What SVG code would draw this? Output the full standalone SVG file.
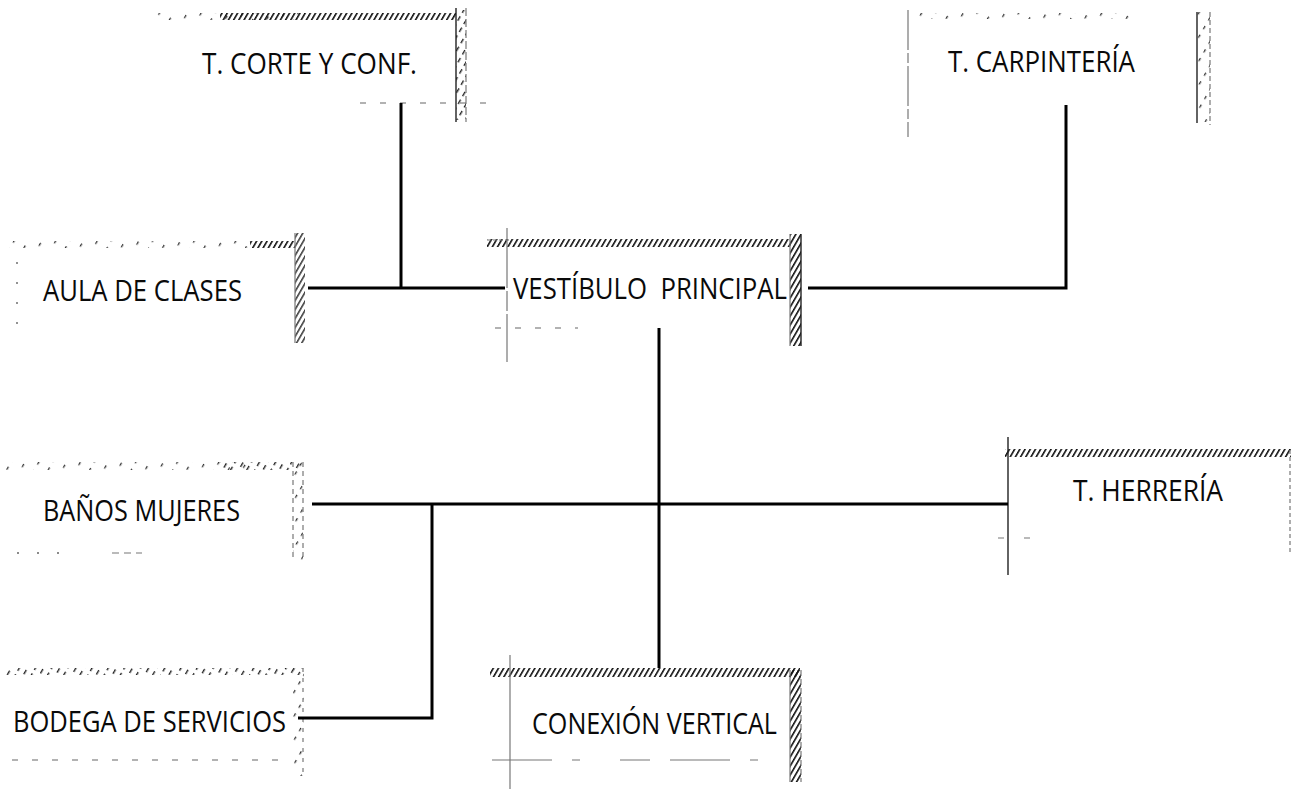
<svg xmlns="http://www.w3.org/2000/svg" width="1293" height="789" viewBox="0 0 1293 789">
<defs>
<pattern id="hd" width="4.5" height="12" patternUnits="userSpaceOnUse" patternTransform="rotate(30)"><rect width="1.6" height="12" fill="#111"/></pattern>
<pattern id="hs" width="7" height="9" patternUnits="userSpaceOnUse" patternTransform="rotate(30)"><rect width="1.4" height="5" fill="#222"/></pattern>
<pattern id="hx" width="12" height="10" patternUnits="userSpaceOnUse" patternTransform="rotate(30)"><rect width="1.3" height="3.5" fill="#333"/></pattern>
</defs>
<style>
.lbl{font-family:"Open Sans","Liberation Sans",sans-serif;font-size:30px;font-weight:500;fill:#0a0a0a}
.in{stroke:#222;stroke-width:1.4;fill:none}
.gr{stroke:#777;stroke-width:1.2;fill:none}
.dsh{stroke:#666;stroke-width:1.2;fill:none;stroke-dasharray:6 14}
.dot{stroke:#666;stroke-width:1.4;fill:none;stroke-dasharray:2 18}
.con{stroke:#000;stroke-width:3;fill:none}
</style>
<rect width="1293" height="789" fill="#fff"/>

<g id="node-corte">
<rect x="147" y="13" width="160" height="7" fill="url(#hx)"/>
<rect x="220" y="13" width="236" height="7" fill="url(#hd)"/>
<rect x="456" y="10" width="10" height="110" fill="url(#hs)"/>
<line class="in" x1="456" y1="8" x2="456" y2="122"/>
<line class="gr" x1="466" y1="8" x2="466" y2="122" stroke-dasharray="8 3"/>
<line class="dsh" x1="360" y1="103" x2="490" y2="103"/>
<text class="lbl" x="202" y="74" textLength="215" lengthAdjust="spacingAndGlyphs">T. CORTE Y CONF.</text>
</g>

<g id="node-carpinteria">
<rect x="910" y="13" width="230" height="6" fill="url(#hx)"/>
<line class="gr" x1="908" y1="10" x2="908" y2="137" stroke-dasharray="40 3 10 3"/>
<line class="in" x1="1197" y1="12" x2="1197" y2="123"/>
<line class="gr" x1="1210" y1="12" x2="1210" y2="125" stroke-dasharray="5 3"/>
<rect x="1197" y="12" width="13" height="110" fill="url(#hx)"/>
<text class="lbl" x="948" y="72" textLength="187" lengthAdjust="spacingAndGlyphs">T. CARPINTERÍA</text>
</g>

<g id="node-aula">
<rect x="5" y="241" width="250" height="7" fill="url(#hx)"/>
<rect x="250" y="241" width="45" height="7" fill="url(#hd)"/>
<rect x="295" y="233" width="10" height="110" fill="url(#hd)" opacity="0.8"/>
<line class="gr" x1="295" y1="233" x2="295" y2="343"/>
<line class="dot" x1="17" y1="262" x2="17" y2="330"/>
<text class="lbl" x="43" y="301" textLength="199" lengthAdjust="spacingAndGlyphs">AULA DE CLASES</text>
</g>

<g id="node-vestibulo">
<rect x="487" y="239" width="304" height="8" fill="url(#hd)"/>
<line class="gr" x1="487" y1="240" x2="510" y2="240" stroke-dasharray="4 2"/>
<line class="gr" x1="507" y1="228" x2="507" y2="362" stroke-dasharray="60 3 20 3"/>
<rect x="790" y="234" width="11" height="112" fill="url(#hd)"/>
<line class="gr" x1="790" y1="234" x2="790" y2="346"/>
<line class="in" x1="801" y1="234" x2="801" y2="346" stroke-width="2"/>
<line class="dsh" x1="495" y1="328" x2="578" y2="328" stroke-dasharray="10 4 4 6"/>
<text class="lbl" x="513" y="299" textLength="274" lengthAdjust="spacingAndGlyphs" xml:space="preserve">VESTÍBULO  PRINCIPAL</text>
</g>

<g id="node-banos">
<rect x="5" y="462" width="250" height="8" fill="url(#hx)"/>
<rect x="220" y="462" width="82" height="8" fill="url(#hs)"/>
<rect x="293" y="462" width="10" height="98" fill="url(#hx)"/>
<line class="gr" x1="293" y1="462" x2="293" y2="560" stroke-dasharray="5 4"/>
<line class="gr" x1="303" y1="462" x2="303" y2="560" stroke-dasharray="5 4"/>
<line class="dot" x1="17" y1="553" x2="60" y2="553"/>
<line class="gr" x1="112" y1="553" x2="142" y2="553" stroke-dasharray="7 5"/>
<text class="lbl" x="43" y="521" textLength="197" lengthAdjust="spacingAndGlyphs">BAÑOS MUJERES</text>
</g>

<g id="node-herreria">
<rect x="1005" y="449" width="286" height="8" fill="url(#hd)"/>
<line class="in" x1="1008" y1="437" x2="1008" y2="575" stroke-width="1.2"/>
<line class="gr" x1="998" y1="538" x2="1035" y2="538" stroke-dasharray="6 20"/>
<line class="gr" x1="1290" y1="450" x2="1290" y2="552" stroke-dasharray="4 3"/>
<text class="lbl" x="1073" y="501" textLength="150" lengthAdjust="spacingAndGlyphs">T. HERRERÍA</text>
</g>

<g id="node-bodega">
<rect x="5" y="668" width="300" height="7" fill="url(#hs)"/>
<rect x="293" y="668" width="11" height="108" fill="url(#hx)"/>
<line class="gr" x1="303" y1="668" x2="303" y2="778" stroke-dasharray="4 6"/>
<line class="dsh" x1="12" y1="760" x2="290" y2="760" stroke-dasharray="6 30"/>
<text class="lbl" x="13" y="732" textLength="273" lengthAdjust="spacingAndGlyphs">BODEGA DE SERVICIOS</text>
</g>

<g id="node-conexion">
<rect x="490" y="668" width="310" height="9" fill="url(#hd)"/>
<line class="gr" x1="510" y1="655" x2="510" y2="789"/>
<rect x="790" y="670" width="11" height="112" fill="url(#hd)"/>
<line class="gr" x1="790" y1="670" x2="790" y2="782"/>
<line class="gr" x1="801" y1="670" x2="801" y2="782" stroke-dasharray="6 3"/>
<line class="gr" x1="492" y1="760" x2="760" y2="760" stroke-dasharray="60 20 8 40 30 20"/>
<text class="lbl" x="532" y="734" textLength="245" lengthAdjust="spacingAndGlyphs">CONEXIÓN VERTICAL</text>
</g>

<g id="connectors">
<line class="con" x1="401" y1="103" x2="401" y2="288"/>
<line class="con" x1="308" y1="288" x2="505" y2="288"/>
<polyline class="con" points="808,288 1066,288 1066,105"/>
<line class="con" x1="659" y1="328" x2="659" y2="668"/>
<line class="con" x1="312" y1="504" x2="1008" y2="504"/>
<polyline class="con" points="298,718 432,718 432,504"/>
</g>
</svg>
